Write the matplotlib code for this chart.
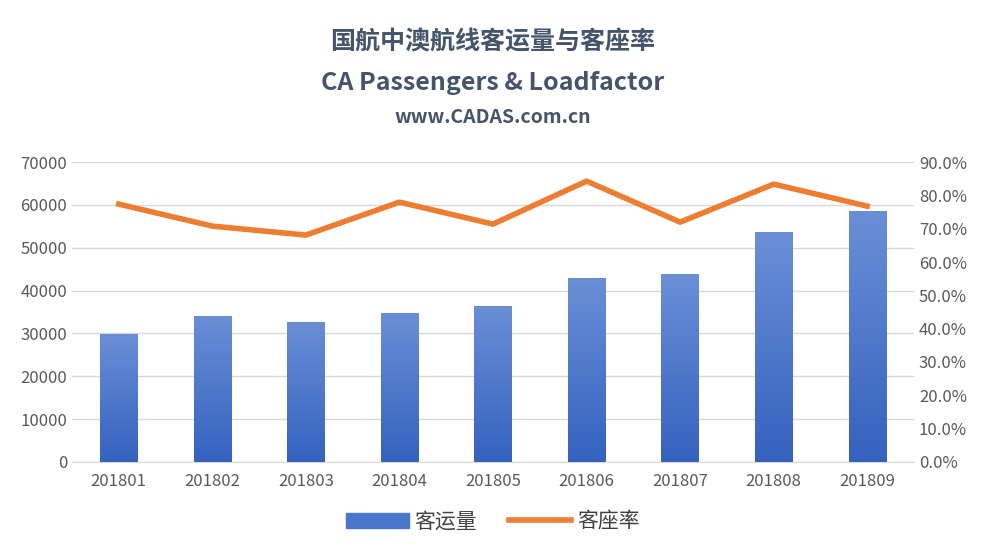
import matplotlib.pyplot as plt
import numpy as np
from matplotlib.ticker import FuncFormatter
from matplotlib.lines import Line2D
from matplotlib.patches import Patch
from matplotlib.colors import LinearSegmentedColormap

plt.rcParams['font.family'] = ['Noto Sans CJK SC', 'DejaVu Sans']

months = ['201801', '201802', '201803', '201804', '201805',
          '201806', '201807', '201808', '201809']
passengers = [29900, 34100, 32700, 34800, 36400, 42900, 43900, 53700, 58600]
loadfactor = [77.4, 70.8, 68.1, 78.0, 71.4, 84.3, 72.0, 83.4, 76.8]

fig = plt.figure(figsize=(9.86, 5.46), dpi=100)
ax = fig.add_axes([0.073, 0.154, 0.854, 0.549])
ax2 = ax.twinx()

x = np.arange(len(months))
bars = ax.bar(x, passengers, width=0.4, color='#4a76cc', zorder=2)
# vertical gradient on each bar
grad = np.linspace(0, 1, 256).reshape(-1, 1)
cmap = LinearSegmentedColormap.from_list('g', ['#3562bf', '#6a8fd6'])
for b in bars:
    x0, w, h = b.get_x(), b.get_width(), b.get_height()
    im = ax.imshow(grad, cmap=cmap, aspect='auto', origin='lower',
                   extent=[x0, x0 + w, 0, h], zorder=3)
    im.set_clip_path(b)

ax.set_xlim(-0.5, len(months) - 0.5)
ax.set_ylim(0, 70000)
ax.set_yticks(range(0, 70001, 10000))
ax.set_xticks(x)
ax.set_xticklabels(months)
ax.grid(axis='y', color='#d9d9d9', linewidth=1, zorder=0)
ax.set_axisbelow(True)

ax2.plot(x, loadfactor, color='#ed7d31', linewidth=4, zorder=4)
ax2.set_ylim(0, 90)
ax2.set_yticks(range(0, 91, 10))
ax2.yaxis.set_major_formatter(FuncFormatter(lambda v, p: f'{v:.1f}%'))

for a in (ax, ax2):
    for s in a.spines.values():
        s.set_visible(False)
    a.tick_params(length=0, labelsize=12, colors='#595959')
ax.spines['bottom'].set_visible(True)
ax.spines['bottom'].set_color('#d9d9d9')
ax.tick_params(axis='x', pad=8)

fig.text(0.5, 0.91, '国航中澳航线客运量与客座率', ha='center', fontsize=18,
         fontweight='bold', color='#44546a')
fig.text(0.5, 0.835, 'CA Passengers & Loadfactor', ha='center', fontsize=18,
         fontweight='bold', color='#44546a')
fig.text(0.5, 0.775, 'www.CADAS.com.cn', ha='center', fontsize=14,
         fontweight='bold', color='#44546a')

handles = [Patch(color='#4a76cc'), Line2D([0], [0], color='#ed7d31', linewidth=4)]
fig.legend(handles, ['客运量', '客座率'], loc='lower center', ncol=2,
           frameon=False, fontsize=15, bbox_to_anchor=(0.5, -0.01),
           handlelength=3.0, handletextpad=0.3, columnspacing=1.5,
           labelcolor='#404040')

fig.savefig('out.png', dpi=100)
